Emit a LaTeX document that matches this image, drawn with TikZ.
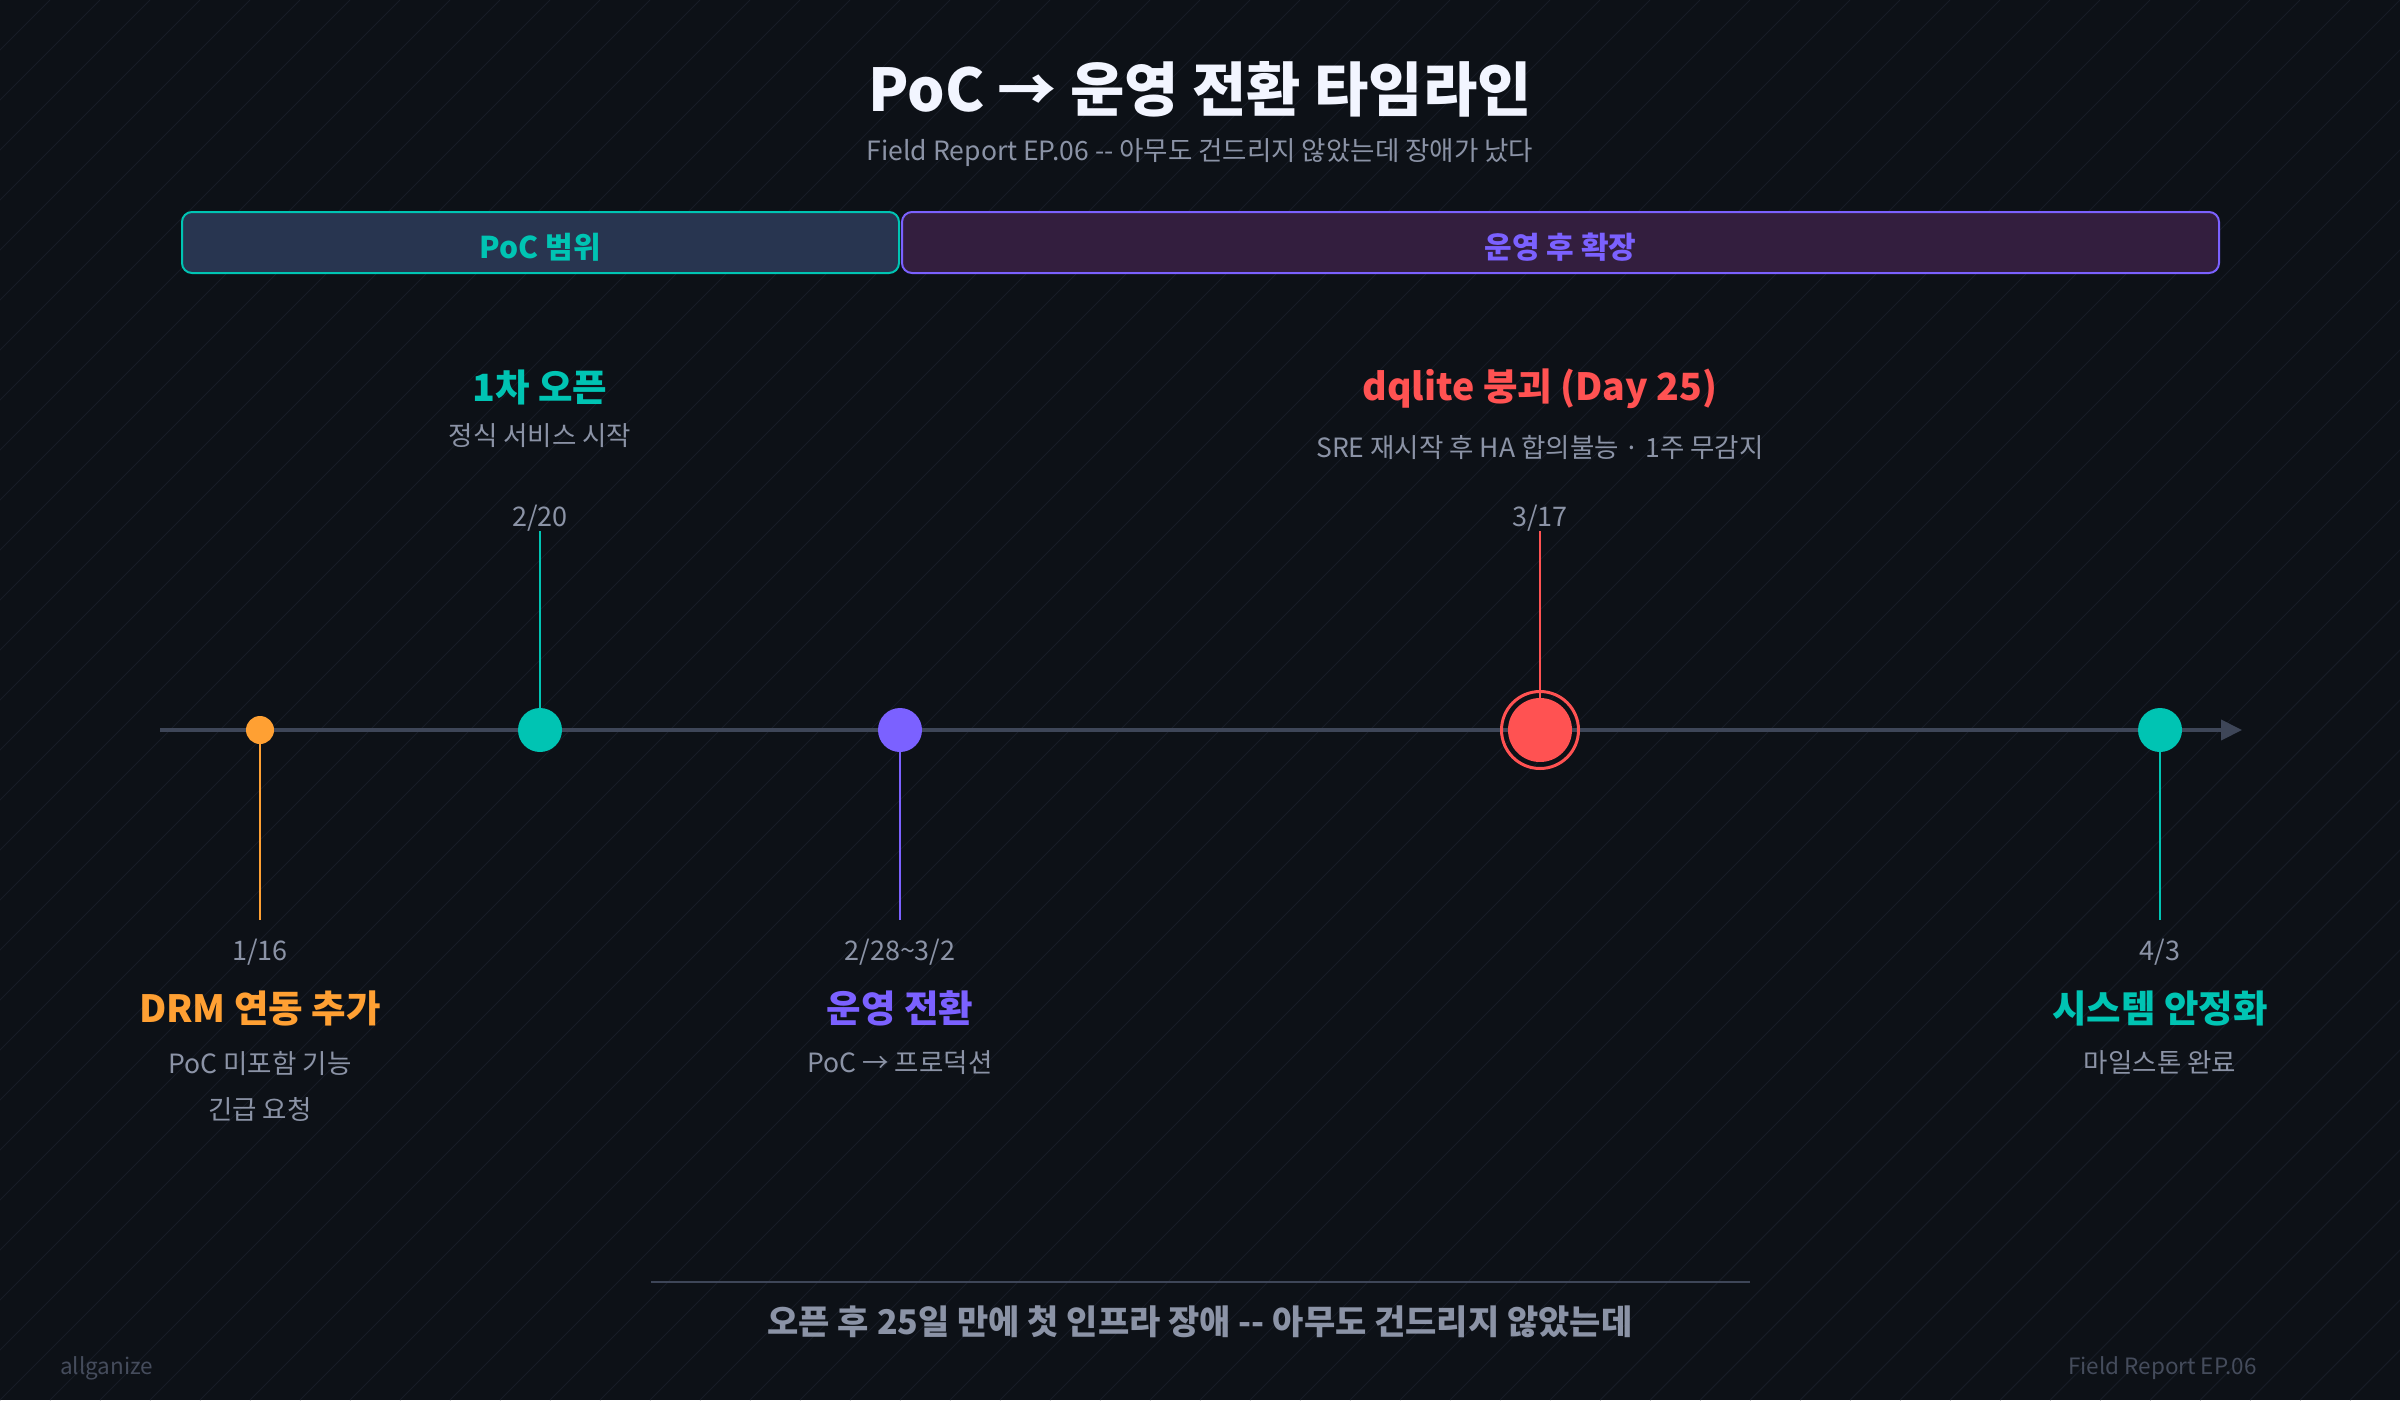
\documentclass[tikz,border=0pt]{standalone}
\usepackage{fontspec}
\setmainfont{Noto Sans CJK KR}
\usepackage{tikz}
\definecolor{bgdark}{HTML}{0D1117}
\definecolor{stripe}{HTML}{171C26}
\definecolor{axisgray}{HTML}{3E4658}
\definecolor{textgray}{HTML}{8B93A6}
\definecolor{footgray}{HTML}{454C5C}
\definecolor{titlewhite}{HTML}{F2F5FF}
\definecolor{tealc}{HTML}{00C4B3}
\definecolor{orangec}{HTML}{FFA033}
\definecolor{purplec}{HTML}{7B61FF}
\definecolor{redc}{HTML}{FF5252}
\definecolor{pocfill}{HTML}{283550}
\definecolor{opsfill}{HTML}{331E3E}
\usetikzlibrary{arrows.meta}

\begin{document}
\begin{tikzpicture}[x=1pt, y=-1pt,
	dot/.style = {circle, inner sep=0pt, minimum size=44pt},
	stem/.style = {line width=2pt},
	phase/.style = {draw, line width=2pt, rounded corners=10pt, minimum height=61pt, inner sep=0pt, text height=33pt, text depth=2pt, font=\fontsize{30}{34}\selectfont\bfseries},
	datelbl/.style = {text=textgray, inner sep=0pt, font=\fontsize{27}{31}\selectfont},
	evtitle/.style = {inner sep=0pt, font=\fontsize{37.5}{42}\selectfont\bfseries},
	evdesc/.style = {text=textgray, inner sep=0pt, font=\fontsize{26.5}{30}\selectfont}]
	\useasboundingbox (0,0) rectangle (2400,1400);
	
	% background with thin diagonal lines
	\fill[bgdark] (0,0) rectangle (2400,1400);
	\begin{scope}
		\clip (0,0) rectangle (2400,1400);
		\foreach \i in {-1400,-1350,...,2400}
			\draw[stripe, line width=1pt] (\i,1400) -- ++(1400,-1400);
	\end{scope}
	
	\node[text=titlewhite, inner sep=0pt, font=\fontsize{59}{66}\selectfont\bfseries] (title) at (1200,89) {PoC → 운영 전환 타임라인};
	\node[text=textgray, inner sep=0pt, font=\fontsize{26.5}{31}\selectfont] (subtitle) at (1200,153) {Field Report EP.06 -{}- 아무도 건드리지 않았는데 장애가 났다};
	
	\node[phase, draw=tealc, fill=pocfill, text=tealc, minimum width=717pt] (poc) at (540.5,242.5) {PoC 범위};
	\node[phase, draw=purplec, fill=opsfill, text=purplec, minimum width=1317pt] (ops) at (1560.5,242.5) {운영 후 확장};
	
	% time axis
	\coordinate (a0) at (160,730);
	\coordinate (a1) at (2242,730);
	\draw[axisgray, line width=4pt, -{Triangle[length=21pt, width=20pt]}] (a0) -- (a1);
	
	\node[dot, fill=orangec, minimum size=28pt] (d1) at (260,730) {};
	\node[dot, fill=tealc] (d2) at (540,730) {};
	\node[dot, fill=purplec] (d3) at (900,730) {};
	\node[dot, fill=redc, minimum size=64pt] (d4) at (1540,730) {};
	\node[dot, draw=redc, line width=3pt, minimum size=77pt] (r4) at (1540,730) {};
	\node[dot, fill=tealc] (d5) at (2160,730) {};
	
	\coordinate (e1) at (260,920);
	\coordinate (e2) at (540,531);
	\coordinate (e3) at (900,920);
	\coordinate (e4) at (1540,531);
	\coordinate (e5) at (2160,920);
	
	\draw[stem, orangec] (d1.south) -- (e1);
	\draw[stem, tealc] (d2.north) -- (e2);
	\draw[stem, purplec] (d3.south) -- (e3);
	\draw[stem, redc] (d4.north) -- (e4);
	\draw[stem, tealc] (d5.south) -- (e5);
	
	% labels below the axis
	\node[datelbl] (dt1) at (260,952) {1/16};
	\node[evtitle, text=orangec] (ti1) at (260,1008) {DRM 연동 추가};
	\node[evdesc] (de1) at (260,1063) {PoC 미포함 기능};
	\node[evdesc] (de1b) at (260,1109) {긴급 요청};
	
	\node[datelbl] (dt3) at (900,952) {2/28\textasciitilde 3/2};
	\node[evtitle, text=purplec] (ti3) at (900,1008) {운영 전환};
	\node[evdesc] (de3) at (900,1063) {PoC → 프로덕션};
	
	\node[datelbl] (dt5) at (2160,952) {4/3};
	\node[evtitle, text=tealc] (ti5) at (2160,1008) {시스템 안정화};
	\node[evdesc] (de5) at (2160,1063) {마일스톤 완료};
	
	% labels above the axis
	\node[datelbl] (dt2) at (540,518) {2/20};
	\node[evtitle, text=tealc] (ti2) at (540,387) {1차 오픈};
	\node[evdesc] (de2) at (540,436) {정식 서비스 시작};
	
	\node[datelbl] (dt4) at (1540,518) {3/17};
	\node[evtitle, text=redc] (ti4) at (1540,389) {dqlite 붕괴 (Day 25)};
	\node[evdesc] (de4) at (1540,447) {SRE 재시작 후 HA 합의불능 · 1주 무감지};
	
	% bottom note
	\coordinate (s0) at (651,1282);
	\coordinate (s1) at (1750,1282);
	\draw[axisgray, line width=2pt] (s0) -- (s1);
	\node[text=textgray, inner sep=0pt, font=\fontsize{34}{38}\selectfont\bfseries] (note) at (1200,1322) {오픈 후 25일 만에 첫 인프라 장애 -{}- 아무도 건드리지 않았는데};
	
	\node[text=footgray, anchor=west, inner sep=0pt, font=\fontsize{22.5}{26}\selectfont] (brand) at (60,1368) {allganize};
	\node[text=footgray, anchor=east, inner sep=0pt, font=\fontsize{22.5}{26}\selectfont] (ep) at (2257,1368) {Field Report EP.06};
	
	%	\draw[->, thick] (d4) -- (ti4);
	
\end{tikzpicture}
\end{document}
